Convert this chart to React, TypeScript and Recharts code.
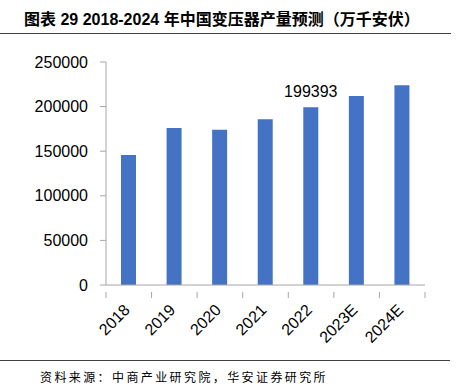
import { BarChart, Bar, XAxis, YAxis, LabelList } from 'recharts';

const years = ['2018', '2019', '2020', '2021', '2022', '2023E', '2024E'];
const output = [145700, 176000, 174100, 185700, 199393, 212000, 223800];
const yTicks = [0, 50000, 100000, 150000, 200000, 250000];
const labelledYear = '2022';

const data = years.map((year, i) => ({ year, output: output[i] }));

const W = 457;
const H = 389;
const PLOT_LEFT = 106;
const PLOT_RIGHT = 425;
const BAND = (PLOT_RIGHT - PLOT_LEFT) / years.length;
const AXIS = '#a6a6a6';
const FONT = '"Liberation Sans", Arial, "Noto Sans CJK SC", sans-serif';

const XTick = (props: any) => {
    const { x, y, payload, index } = props;
    const last = index === years.length - 1;
    return (
        <g>
            <line x1={x - BAND / 2} y1={y - 1} x2={x - BAND / 2} y2={y + 5} stroke={AXIS} />
            {last && <line x1={x + BAND / 2} y1={y - 1} x2={x + BAND / 2} y2={y + 5} stroke={AXIS} />}
            <text
                x={x + 2}
                y={y + 18}
                textAnchor="end"
                fontSize={16}
                fill="#000"
                fontFamily={FONT}
                transform={`rotate(-45, ${x + 2}, ${y + 18})`}
            >
                {payload.value}
            </text>
        </g>
    );
};

const ValueLabel = (props: any) => {
    const { x, y, width, value, index } = props;
    if (years[index] !== labelledYear) return null;
    return (
        <text x={x + width / 2} y={y - 10} textAnchor="middle" fontSize={16} fill="#000" fontFamily={FONT}>
            {value}
        </text>
    );
};

export default function App() {
    return (
        <div style={{ position: 'absolute', left: 0, top: 0, width: W, height: H, background: '#fff', fontFamily: FONT }}>
            <div
                style={{
                    position: 'absolute',
                    left: 24,
                    top: 10,
                    fontSize: 16,
                    fontWeight: 'bold',
                    color: '#000',
                    whiteSpace: 'nowrap',
                    lineHeight: '20px',
                }}
            >
                图表 29 2018-2024 年中国变压器产量预测（万千安伏）
            </div>
            <div style={{ position: 'absolute', left: 0, top: 33, width: 451, height: 1, background: '#404040' }} />

            <div style={{ position: 'absolute', left: 0, top: 0 }}>
                <BarChart
                    width={W}
                    height={H}
                    data={data}
                    margin={{ top: 62, right: W - PLOT_RIGHT, bottom: 54, left: PLOT_LEFT - 60 }}
                >
                    <XAxis
                        dataKey="year"
                        height={50}
                        interval={0}
                        stroke={AXIS}
                        tickLine={false}
                        tick={<XTick />}
                    />
                    <YAxis
                        width={60}
                        domain={[0, 250000]}
                        ticks={yTicks}
                        interval={0}
                        stroke={AXIS}
                        tickSize={6}
                        tickMargin={12}
                        tick={{ fill: '#000', fontSize: 16, fontFamily: FONT }}
                    />
                    <Bar dataKey="output" fill="#4472c4" barSize={15} isAnimationActive={false}>
                        <LabelList dataKey="output" content={<ValueLabel />} />
                    </Bar>
                </BarChart>
            </div>

            <div style={{ position: 'absolute', left: 0, top: 360, width: 450, height: 1, background: '#404040' }} />
            <div
                style={{
                    position: 'absolute',
                    left: 40,
                    top: 369,
                    fontSize: 12,
                    letterSpacing: 2.4,
                    lineHeight: '16px',
                    color: '#000',
                    whiteSpace: 'nowrap',
                    fontFamily: '"Noto Sans CJK SC", sans-serif',
                }}
            >
                资料来源：中商产业研究院，华安证券研究所
            </div>
        </div>
    );
}
